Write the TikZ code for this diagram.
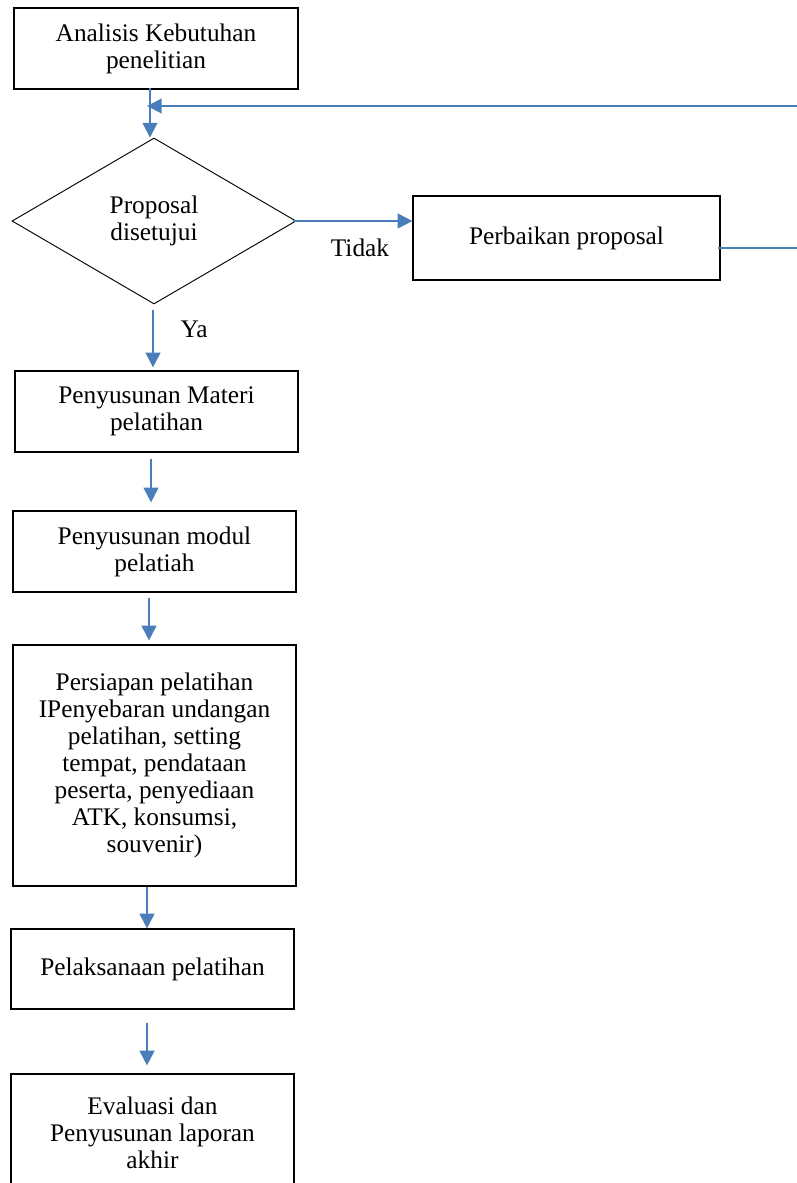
\documentclass[tikz,border=0pt]{standalone}
\usepackage{fontspec}
\setmainfont{Liberation Serif}
\usetikzlibrary{shapes.geometric,arrows.meta}
\definecolor{arrblue}{RGB}{74,126,187}
\begin{document}
\begin{tikzpicture}[x=0.75pt,y=-0.75pt,
  every node/.style={font=\fontsize{19}{20.25}\selectfont},
  box/.style={draw=black,line width=0.9pt,rectangle,align=center,inner sep=0pt,minimum width=212.25pt},
  decision/.style={draw=black,line width=0.7pt,diamond,align=center,inner sep=0pt,minimum width=213pt,minimum height=124.5pt,aspect=1.71},
  arr/.style={draw=arrblue,line width=1.5pt,-{Triangle[length=11pt,width=11pt]}},
  conn/.style={draw=arrblue,line width=1.5pt},
  lbl/.style={inner sep=0pt}]
\useasboundingbox (0,0) rectangle (797,1183);
\fill[white] (0,0) rectangle (797,1183);

\node[box,minimum width=213pt,minimum height=60.75pt] (b1) at (156,48.5) {Analisis Kebutuhan\\penelitian};
\node[decision] (dia) at (154,221) {Proposal\\disetujui};
\node[box,minimum width=230.25pt,minimum height=63pt] (perb) at (566.5,238) {Perbaikan proposal};
\node[box,minimum height=60.75pt] (b2) at (156.5,411.5) {Penyusunan Materi\\pelatihan};
\node[box,minimum height=60.75pt] (b3) at (154.5,551.5) {Penyusunan modul\\pelatiah};
\node[box,minimum height=180.75pt] (b4) at (154.5,765.5) {Persiapan pelatihan\\IPenyebaran undangan\\pelatihan, setting\\tempat, pendataan\\peserta, penyediaan\\ATK, konsumsi,\\souvenir)};
\node[box,minimum height=60pt] (b5) at (152.5,969) {Pelaksanaan pelatihan};
\node[box,minimum height=88.5pt] (b6) at (152.5,1133) {Evaluasi dan\\Penyusunan laporan\\akhir};

\node[lbl] (tidak) at (360,248) {Tidak};
\node[lbl] (ya) at (194,329) {Ya};

\coordinate (fbtop) at (797,106);
\coordinate (fbbot) at (797,248);
\coordinate (join) at (147,106);

\draw[arr] ([xshift=-4.5pt,yshift=1pt]b1.south) -- ([xshift=-3pt]dia.north);
\draw[arr] ([xshift=-0.75pt,yshift=-4.5pt]dia.south) -- ([xshift=-2.625pt,yshift=2.25pt]b2.north);
\draw[arr] ([xshift=-4.125pt,yshift=-4.5pt]b2.south) -- ([xshift=-2.625pt,yshift=6pt]b3.north);
\draw[arr] ([xshift=-4.125pt,yshift=-3.75pt]b3.south) -- ([xshift=-4.125pt,yshift=3pt]b4.north);
\draw[arr] ([xshift=-5.625pt]b4.south) -- ([xshift=-4.125pt]b5.north);
\draw[arr] ([xshift=-4.125pt,yshift=-9.75pt]b5.south) -- ([xshift=-4.125pt,yshift=6pt]b6.north);
\draw[arr] ([xshift=-2.25pt]dia.east) -- ([yshift=12.75pt]perb.west);
\draw[conn] ([xshift=-2.25pt,yshift=-7.5pt]perb.east) -- (fbbot);
\draw[arr] (fbtop) -- (join);
\end{tikzpicture}
\end{document}
